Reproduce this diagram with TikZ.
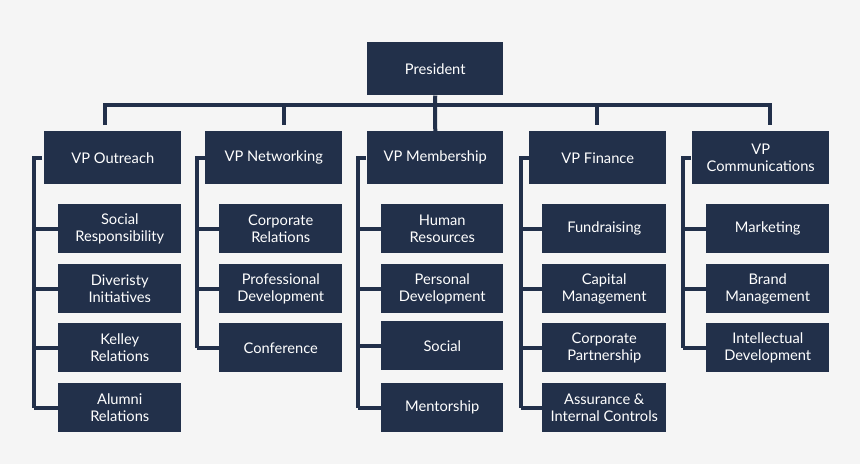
\documentclass[tikz,border=0pt]{standalone}
\usepackage{fontspec}
\setmainfont{Lato}
\definecolor{bg}{HTML}{F5F5F5}
\definecolor{navy}{HTML}{22304A}
\begin{document}
\begin{tikzpicture}[x=0.75pt,y=-0.75pt,
  box/.style={fill=navy,text=white,font=\fontsize{11}{12.5}\selectfont,align=center,inner sep=0pt,anchor=north west},
  ln/.style={draw=navy,line width=3pt}]
\fill[bg] (0,0) rectangle (860,464);
\useasboundingbox (0,0) rectangle (860,464);
\newcommand\bx[6]{\node[box,minimum width=#4*0.75pt,minimum height=#5*0.75pt] (#1) at (#2,#3) {#6};}
\bx{pres}{367}{42}{136}{53}{President}
\bx{v1}{44}{131}{137}{53}{VP Outreach}
\bx{v2}{205}{131}{137}{53}{VP Networking}
\bx{v3}{367}{131}{136}{53}{VP Membership}
\bx{v4}{529}{131}{137}{53}{VP Finance}
\bx{v5}{692}{131}{137}{53}{VP\\Communications}
% children
\bx{a1}{58}{204}{123}{49}{Social\\Responsibility}
\bx{a2}{58}{264}{123}{49}{Diveristy\\Initiatives}
\bx{a3}{58}{323}{123}{49}{Kelley\\Relations}
\bx{a4}{58}{383}{123}{49}{Alumni\\Relations}
\bx{b1}{219}{204}{123}{49}{Corporate\\Relations}
\bx{b2}{219}{264}{123}{49}{Professional\\Development}
\bx{b3}{219}{323}{123}{49}{Conference}
\bx{c1}{381}{204}{122}{49}{Human\\Resources}
\bx{c2}{381}{264}{122}{49}{Personal\\Development}
\bx{c3}{381}{321}{122}{49}{Social}
\bx{c4}{381}{383}{122}{49}{Mentorship}
\bx{d1}{542}{204}{124}{49}{Fundraising}
\bx{d2}{542}{264}{124}{49}{Capital\\Management}
\bx{d3}{542}{323}{124}{49}{Corporate\\Partnership}
\bx{d4}{542}{383}{124}{49}{Assurance \&\\Internal Controls}
\bx{e1}{706}{204}{123}{49}{Marketing}
\bx{e2}{706}{264}{123}{49}{Brand\\Management}
\bx{e3}{706}{323}{123}{49}{Intellectual\\Development}
% top bus
\coordinate (bl) at (105,105); \coordinate (br) at (770,105);
\draw[ln] (pres.south) -- (435,105);
\draw[ln] (105,125) -- (bl) -- (br) -- (770,125);
\draw[ln] (284,105) -- (284,125);
\draw[ln] (435,105) -- (v3.north);
\draw[ln] (597,105) -- (597,125);
% spines
\newcommand\spine[4]{\draw[ln] (#2|-#1.west) ++(8,0) -- (#2|-#1.west) -- (#2|-#3.west);
  \foreach \c in {#4} \draw[ln] (#2|-\c.west) -- (\c.west);}
\coordinate (s1) at (34,0);\coordinate (s2) at (197,0);\coordinate (s3) at (358,0);\coordinate (s4) at (521,0);\coordinate (s5) at (683,0);
\spine{v1}{s1}{a4}{a1,a2,a3,a4}
\spine{v2}{s2}{b3}{b1,b2,b3}
\spine{v3}{s3}{c4}{c1,c2,c3,c4}
\spine{v4}{s4}{d4}{d1,d2,d3,d4}
\spine{v5}{s5}{e3}{e1,e2,e3}
\end{tikzpicture}
\end{document}
